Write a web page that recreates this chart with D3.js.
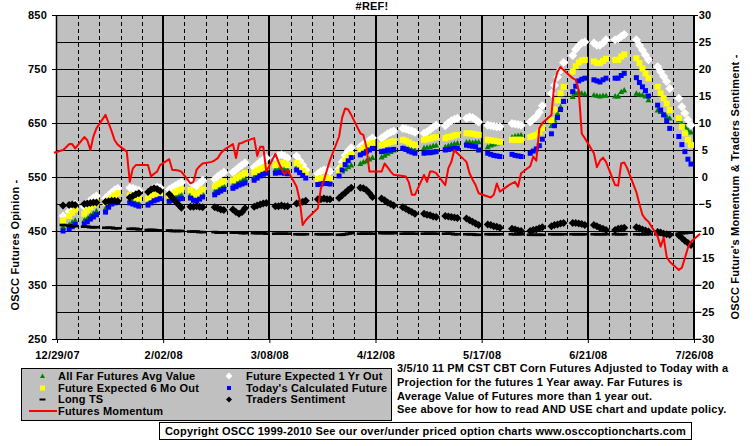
<!DOCTYPE html>
<html>
<head>
<meta charset="utf-8">
<script src="https://cdn.jsdelivr.net/npm/d3@7/dist/d3.min.js"></script>
<style>
  html, body { margin: 0; padding: 0; background: #fff; }
  svg { display: block; }
  text { font-family: Arial, "Liberation Sans", sans-serif; font-weight: bold; fill: #000; letter-spacing: 0.2px; }
</style>
</head>
<body>
<svg id="chart" width="755" height="446"></svg>
<script>
// ---------------- DATA ----------------
const chartTitle = "#REF!";
const xTickLabels = ["12/29/07", "2/02/08", "3/08/08", "4/12/08", "5/17/08", "6/21/08", "7/26/08"];
const leftTicks = [250, 350, 450, 550, 650, 750, 850];
const rightTicks = [-30, -25, -20, -15, -10, -5, 0, 5, 10, 15, 20, 25, 30];
const firstMarkerDay = "2007-12-31";   // markers: weekdays 12/31/07 .. 7/25/08
const firstMomentumDay = "2007-12-28"; // momentum: weekdays 12/28/07 .. 7/28/08

// Future Expected 1 Yr Out (left axis), 5 weekdays per week, null = holiday
const oneYearOut = [
  478,null,486,492,500, 495,501,507,511,515, 511,516,521,526,529, null,530,529,527,525,
  522,526,530,531,530, 527,530,534,537,540, 541,536,533,538,544, null,546,551,555,559,
  559,563,568,572,576, 568,573,578,582,585, 587,590,591,589,585, 589,580,572,563,null,
  556,560,563,563,560, 565,578,590,598,604, 606,610,614,618,622, 622,626,630,633,635,
  640,639,637,635,633, 631,634,638,642,646, 645,650,654,657,659, 659,661,660,656,652,
  646,645,644,643,643, null,649,648,647,646, 652,657,662,670,682, 705,720,735,748,762,
  775,786,793,798,800, 798,794,794,798,804, 804,806,810,814,null, 804,794,785,776,767,
  754,745,736,727,714, 696,680,668,656,646
];
// Future Expected 6 Mo Out (left axis)
const sixMonthOut = [
  470,null,478,484,490, 482,488,494,499,503, 502,507,512,516,520, null,516,514,512,510,
  510,513,516,517,517, 515,518,522,525,527, 526,520,517,522,527, null,533,537,540,542,
  544,548,551,554,557, 559,562,565,567,568, 572,575,576,575,572, 576,569,561,554,null,
  546,548,549,548,546, 560,570,580,587,592, 600,604,607,610,613, 609,611,613,615,616,
  619,617,614,611,609, 619,620,621,623,624, 622,624,625,627,628, 631,631,630,629,628,
  619,618,617,616,615, null,619,619,619,619, 624,626,628,632,640, 655,675,692,705,717,
  745,755,762,766,767, 764,761,761,765,769, 767,767,773,777,null, 770,761,751,742,733,
  717,705,696,686,674, 659,643,631,619,609
];
// Today's Calculated Future (left axis)
const todaysFuture = [
  450,null,454,458,462, 463,467,472,476,480, 485,494,500,502,503, null,502,500,498,496,
  498,502,506,508,510, 505,507,508,509,510, 511,507,506,509,513, null,517,521,524,527,
  529,532,535,537,539, 544,548,552,555,557, 557,558,558,557,556, 563,558,553,548,null,
  536,537,538,538,537, 552,563,573,580,586, 591,594,597,600,603, 597,598,600,600,601,
  603,601,598,596,594, 594,595,595,596,597, 600,601,602,603,603, 609,608,607,606,600,
  594,592,590,589,588, null,592,590,589,588, 594,598,602,608,620, 630,645,660,675,690,
  708,718,728,731,733, 730,728,726,730,733, 733,733,738,742,null, 734,725,717,710,700,
  683,674,665,654,640, 625,610,597,583,574
];
// All Far Futures Avg Value (left axis)
const farFutures = [
  458,null,462,466,470, 470,474,479,483,487, 492,498,503,506,508, null,507,505,503,501,
  503,507,510,512,513, 510,512,514,516,517, 517,512,511,514,519, null,523,527,531,534,
  535,538,541,544,547, 550,554,557,560,562, 564,565,565,565,564, 568,563,558,553,null,
  541,542,543,543,542, 558,561,565,569,572, 575,578,580,583,586, 587,590,594,597,600,
  604,603,602,601,600, 604,605,606,608,609, 606,608,610,612,613, 615,615,614,615,615,
  606,609,611,613,614, null,624,626,627,628, 624,626,628,631,642, 645,655,668,680,690,
  699,705,708,705,704, 702,701,700,701,701, 700,700,708,711,null, 705,703,702,700,693,
  674,671,666,662,659, 656,649,643,637,633
];
// Long TS (left axis)
const longTS = [
  461,null,460,459,459, 458,458,457,457,457, 456,456,456,455,455, null,454,454,454,453,
  452,452,452,451,451, 451,450,450,450,450, 449,449,449,448,448, null,448,447,447,447,
  447,447,447,446,446, 446,446,446,446,445, 445,445,445,445,445, 444,444,444,444,null,
  444,444,444,444,444, 443,443,444,445,446, 445,445,445,445,445, 446,446,446,446,446,
  445,445,445,445,445, 445,445,445,445,445, 445,445,445,444,444, 444,444,444,443,443,
  444,444,444,444,444, null,444,444,444,444, 443,443,443,443,443, 444,444,444,444,444,
  444,444,444,444,444, 444,444,444,444,444, 444,444,444,444,null, 444,444,444,444,444,
  444,444,444,444,444, 445,446,446,447,447
];
// Traders Sentiment (right axis)
const tradersSentiment = [
  -5.3,null,-5.2,-5.1,-5.2, -5.0,-4.9,-4.8,-4.7,-4.7, -4.6,-4.5,-4.4,-4.4,-4.5, null,-3.8,-3.5,-3.2,-3.0,
  -2.8,-2.3,-2.1,-2.2,-2.6, -3.2,-3.8,-4.5,-5.1,-5.7, -5.5,-5.5,-5.4,-5.5,-5.6, null,-5.6,-5.8,-6.0,-6.1,
  -6.0,-6.5,-6.8,-6.5,-5.8, -5.5,-5.3,-5.1,-4.9,-4.8, -5.4,-5.4,-5.3,-5.4,-5.4, -4.9,-4.8,-4.6,-4.4,null,
  -4.1,-4.1,-4.0,-4.1,-4.1, -3.9,-3.4,-2.9,-2.4,-2.0, -2.0,-2.1,-2.4,-3.0,-3.7, -4.0,-4.3,-4.7,-5.0,-5.3,
  -5.6,-5.9,-6.2,-6.5,-6.8, -6.8,-7.0,-7.1,-7.3,-7.4, -7.2,-7.3,-7.4,-7.5,-7.6, -7.7,-8.0,-8.3,-8.6,-8.9,
  -8.8,-8.9,-9.1,-9.2,-9.4, null,-9.6,-9.7,-9.9,-10.0, -10.0,-9.8,-9.7,-9.5,-9.3, -9.1,-8.9,-8.8,-8.6,-8.5,
  -8.5,-8.5,-8.6,-8.7,-8.9, -8.9,-9.1,-9.4,-9.6,-9.8, -9.8,-9.6,-9.5,-9.4,null, -9.3,-9.5,-9.7,-9.9,-10.1,
  -10.2,-10.3,-10.5,-10.6,-10.7, -10.8,-11.3,-11.8,-12.2,-12.6
];
// Futures Momentum (right axis), 12/28/07 then weekdays to 7/28/08
const futuresMomentum = [
  4.5,
  5.0,5.5,6.1,6.1,5.3, 7.4,6.8,5.0,7.5,9.0, 11.5,10.0,8.5,6.8,6.0, 4.7,-0.9,1.6,2.2,2.2,
  2.2,0.1,0.6,1.0,2.2, 3.3,1.3,1.3,1.2,1.0, -1.2,-0.9,1.3,2.0,2.5, 2.8,3.1,3.5,4.4,5.0,
  6.1,3.5,6.2,6.3,6.6, 7.2,3.9,5.6,5.6,1.0, 4.3,2.8,1.5,0.5,1.3, -1.8,-4.3,-8.9,-8.0,-7.4,
  -5.8,-2.1,-0.6,1.3,3.1, 7.5,11.0,12.7,12.5,11.5, 8.1,7.8,5.5,1.0,1.0, 1.0,2.5,1.8,1.0,0.4,
  0.2,0.1,-1.0,-3.3,-3.3, 0.4,-0.9,1.0,1.0,0.7, -1.5,1.6,2.8,5.0,4.4, 2.8,0.7,-0.5,-1.5,-3.0,
  -3.6,-3.8,-3.3,-1.2,-2.7, -1.5,-1.2,-0.9,-1.8,0.7, 2.0,3.8,3.0,9.0,10.0, 11.5,17.5,19.5,20.4,19.8,
  18.3,18.0,16.0,8.0,7.2, 4.4,1.8,3.0,3.6,2.8, -1.5,-1.6,2.5,2.7,1.6, -2.8,-5.0,-7.0,-7.8,-8.3,
  -11.0,-12.9,-11.2,-14.8,-15.7, -17.2,-16.8,-15.0,-13.1,-12.0,
  -10.5
];

const legendLeft = [
  { label: "All Far Futures Avg Value", key: "far" },
  { label: "Future Expected 6 Mo Out", key: "six" },
  { label: "Long TS", key: "lts" },
  { label: "Futures Momentum", key: "mom" }
];
const legendRight = [
  { label: "Future Expected 1 Yr Out", key: "one" },
  { label: "Today's Calculated Future", key: "today" },
  { label: "Traders Sentiment", key: "trad" }
];
const noteLines = [
  "3/5/10 11 PM CST CBT Corn Futures Adjusted to Today with a",
  "Projection for the futures 1 Year away. Far Futures is",
  "Average Value of Futures more than 1 year out.",
  "See above for how to read AND USE chart and update policy."
];
const copyrightText = "Copyright OSCC 1999-2010 See our over/under priced option charts www.osccoptioncharts.com";

// ---------------- HELPERS ----------------
function weekdaysFrom(startStr, n) {
  const out = [];
  let d = new Date(startStr + "T00:00:00Z");
  while (out.length < n) {
    const wd = d.getUTCDay();
    if (wd !== 0 && wd !== 6) out.push(new Date(d));
    d = d3.utcDay.offset(d, 1);
  }
  return out;
}
const markerDates = weekdaysFrom(firstMarkerDay, oneYearOut.length);
const momentumDates = weekdaysFrom(firstMomentumDay, futuresMomentum.length);
const parseTick = d3.utcParse("%m/%d/%y");
const tickDates = xTickLabels.map(parseTick);

// ---------------- LAYOUT ----------------
const svg = d3.select("#chart");
const plot = { left: 57, right: 694, top: 15, bottom: 339 };

const x = d3.scaleUtc().domain([tickDates[0], tickDates[tickDates.length - 1]]).range([plot.left, plot.right]);
const yL = d3.scaleLinear().domain([250, 850]).range([plot.bottom, plot.top]);
const yR = d3.scaleLinear().domain([-30, 30]).range([plot.bottom, plot.top]);

// plot background
svg.append("rect")
  .attr("x", plot.left).attr("y", plot.top)
  .attr("width", plot.right - plot.left).attr("height", plot.bottom - plot.top)
  .attr("fill", "#C0C0C0");

// horizontal gridlines every 50
const gridG = svg.append("g");
d3.range(300, 851, 50).forEach(v => {
  gridG.append("line")
    .attr("x1", plot.left).attr("x2", plot.right)
    .attr("y1", Math.round(yL(v)) + 0.5).attr("y2", Math.round(yL(v)) + 0.5)
    .attr("stroke", "#000").attr("stroke-width", 1);
});
// weekly vertical lines (dashed) and 5-week lines (solid, thick)
const saturdays = d3.utcSaturday.range(tickDates[0], d3.utcDay.offset(tickDates[tickDates.length - 1], 1));
saturdays.forEach((d, i) => {
  const xp = Math.round(x(d));
  if (i === 0 || i === saturdays.length - 1) return;
  if (i % 5 === 0) {
    gridG.append("line").attr("x1", xp).attr("x2", xp)
      .attr("y1", plot.top).attr("y2", plot.bottom)
      .attr("stroke", "#000").attr("stroke-width", 2);
  } else {
    gridG.append("line").attr("x1", xp + 0.5).attr("x2", xp + 0.5)
      .attr("y1", plot.top).attr("y2", plot.bottom)
      .attr("stroke", "#000").attr("stroke-width", 1).attr("stroke-dasharray", "4,3");
  }
});

// axes lines
svg.append("line").attr("x1", plot.left - 0.5).attr("x2", plot.left - 0.5)
  .attr("y1", plot.top).attr("y2", plot.bottom + 0.5).attr("stroke", "#000").attr("stroke-width", 1.5);
svg.append("line").attr("x1", plot.right).attr("x2", plot.right)
  .attr("y1", plot.top).attr("y2", plot.bottom + 0.5).attr("stroke", "#000").attr("stroke-width", 2);
svg.append("line").attr("x1", plot.left).attr("x2", plot.right)
  .attr("y1", plot.bottom + 0.5).attr("y2", plot.bottom + 0.5).attr("stroke", "#000").attr("stroke-width", 1);

// left axis
const leftAxis = d3.axisLeft(yL).tickValues(leftTicks).tickSize(5).tickPadding(5).tickFormat(d3.format("d"));
const gL = svg.append("g").attr("transform", `translate(${plot.left},0)`).call(leftAxis);
gL.select(".domain").remove();
gL.selectAll("line").attr("stroke", "#000");
gL.selectAll("text").style("font-size", "11px").attr("dy", "0.35em");

// right axis
const rightAxis = d3.axisRight(yR).tickValues(rightTicks).tickSize(4).tickPadding(4).tickFormat(d3.format("d"));
const gR = svg.append("g").attr("transform", `translate(${plot.right},0)`).call(rightAxis);
gR.select(".domain").remove();
gR.selectAll("line").attr("stroke", "#000");
gR.selectAll("text").style("font-size", "11px").attr("text-anchor", "middle").attr("x", 11).attr("dy", "0.35em");

// bottom axis
const bottomAxis = d3.axisBottom(x).tickValues(tickDates).tickSize(4).tickPadding(8)
  .tickFormat((d, i) => xTickLabels[i]);
const gB = svg.append("g").attr("transform", `translate(0,${plot.bottom})`).call(bottomAxis);
gB.select(".domain").remove();
gB.selectAll("line").attr("stroke", "#000");
gB.selectAll("text").style("font-size", "11px");

// title
svg.append("text").attr("x", 372).attr("y", 10).attr("text-anchor", "middle")
  .style("font-size", "11px").text(chartTitle);

// axis titles
svg.append("text").attr("transform", "translate(19,245) rotate(-90)").attr("text-anchor", "middle")
  .style("font-size", "11px").text("OSCC Futures Opinion -");
svg.append("text").attr("transform", "translate(739,187) rotate(-90)").attr("text-anchor", "middle")
  .style("font-size", "11px").text("OSCC Future's Momentum & Traders Sentiment -");

// ---------------- MARKERS ----------------
const sym = {
  diamond: (s) => `M0,${-s}L${s},0L0,${s}L${-s},0Z`,
  square: (s) => `M${-s},${-s}H${s}V${s}H${-s}Z`,
  tri: (s) => `M0,${-s}L${s},${s * 0.8}L${-s},${s * 0.8}Z`,
  dash: (w, h) => `M${-w},${-h}H${w}V${h}H${-w}Z`
};
function markers(values, dates, yScale, path, fill) {
  const pts = values.map((v, i) => ({ v, d: dates[i] })).filter(p => p.v !== null);
  svg.append("g").selectAll("path").data(pts).enter().append("path")
    .attr("transform", p => `translate(${x(p.d)},${yScale(p.v)})`)
    .attr("d", path).attr("fill", fill);
}
markers(farFutures, markerDates, yL, sym.tri(3), "#008000");
markers(oneYearOut, markerDates, yL, sym.diamond(4.5), "#FFFFFF");
markers(sixMonthOut, markerDates, yL, sym.square(3), "#FFFF00");
markers(todaysFuture, markerDates, yL, sym.square(2.5), "#0000FF");
markers(longTS, markerDates, yL, sym.dash(3.5, 1.3), "#000000");
markers(tradersSentiment, markerDates, yR, sym.diamond(4), "#000000");

// momentum line
const line = d3.line().x((v, i) => x(momentumDates[i])).y(v => yR(v));
svg.append("path").datum(futuresMomentum).attr("d", line)
  .attr("fill", "none").attr("stroke", "#FF0000").attr("stroke-width", 2).attr("stroke-linejoin", "round");

// ---------------- LEGEND ----------------
const lg = svg.append("g");
lg.append("rect").attr("x", 21.5).attr("y", 368.5).attr("width", 370).attr("height", 52)
  .attr("fill", "#C0C0C0").attr("stroke", "#000").attr("stroke-width", 1);
const rowY = [376, 388, 399.5, 411];
function legendSymbol(key, cx, cy) {
  if (key === "mom") {
    lg.append("line").attr("x1", 29).attr("x2", 57).attr("y1", cy).attr("y2", cy)
      .attr("stroke", "#FF0000").attr("stroke-width", 2);
    return;
  }
  const map = {
    far: [sym.tri(2.5), "#008000"],
    six: [sym.square(2.5), "#FFFF00"],
    lts: [sym.dash(3, 1), "#000000"],
    one: [sym.diamond(3.5), "#FFFFFF"],
    today: [sym.square(2), "#0000FF"],
    trad: [sym.diamond(3), "#000000"]
  };
  lg.append("path").attr("transform", `translate(${cx},${cy})`).attr("d", map[key][0]).attr("fill", map[key][1]);
}
legendLeft.forEach((e, i) => {
  legendSymbol(e.key, 42.5, rowY[i]);
  lg.append("text").attr("x", 58).attr("y", rowY[i]).attr("dy", "0.35em")
    .style("font-size", "11px").text(e.label);
});
legendRight.forEach((e, i) => {
  legendSymbol(e.key, 229, rowY[i]);
  lg.append("text").attr("x", 246).attr("y", rowY[i]).attr("dy", "0.35em")
    .style("font-size", "11px").text(e.label);
});

// note text
noteLines.forEach((t, i) => {
  svg.append("text").attr("x", 397).attr("y", 368.5 + i * 13.6).attr("dy", "0.35em")
    .style("font-size", "11px").text(t);
});

// copyright box
svg.append("rect").attr("x", 159.5).attr("y", 422.5).attr("width", 532).attr("height", 17)
  .attr("fill", "#FFFFFF").attr("stroke", "#000").attr("stroke-width", 1);
svg.append("text").attr("x", 425.5).attr("y", 431).attr("dy", "0.35em").attr("text-anchor", "middle")
  .style("font-size", "11px").text(copyrightText);
</script>
</body>
</html>
